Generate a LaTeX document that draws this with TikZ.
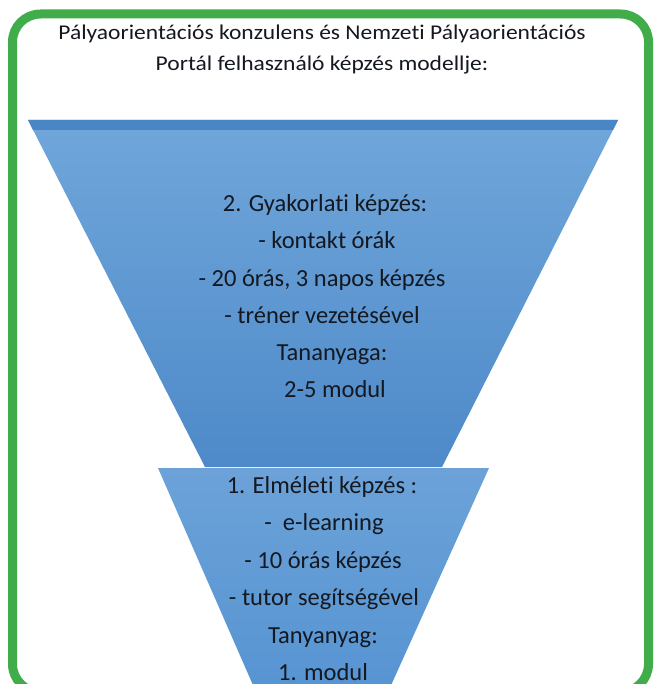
\documentclass[tikz,border=0pt]{standalone}
\usepackage{fontspec}
\setmainfont[Ligatures=NoCommon]{Carlito}
\definecolor{frameg}{RGB}{64,172,74}
\definecolor{upTop}{RGB}{112,166,218}
\definecolor{upBot}{RGB}{78,138,201}
\definecolor{band}{RGB}{74,134,198}
\definecolor{loTop}{RGB}{108,162,216}
\definecolor{loBot}{RGB}{86,148,210}
\definecolor{txt}{RGB}{20,24,32}
\newcommand{\widet}[1]{\scalebox{1.12}[1]{#1}}
\tikzset{
  title/.style={anchor=base, font=\fontsize{21}{24}\selectfont, text=txt, inner sep=0pt},
  body/.style={anchor=base, font=\fontsize{24.5}{28}\selectfont, text=txt, inner sep=0pt},
}
\begin{document}
\begin{tikzpicture}[x=1pt,y=-1pt]
\useasboundingbox (0,0) rectangle (653,684);
\clip (0,0) rectangle (653,684);
\fill[white] (0,0) rectangle (653,684);
% frame
\draw[line width=9pt, frameg, rounded corners=28pt] (12.5,14) rectangle (648.5,692);
% upper funnel part
\shade[top color=upTop, bottom color=upBot] (28,120) -- (618,120) -- (442,467) -- (205,467) -- cycle;
\fill[band] (28,120) -- (618,120) -- (613,130) -- (33,130) -- cycle;
% lower funnel part
\shade[top color=loTop, bottom color=loBot] (158,468) -- (489,468) -- (388,692) -- (256,692) -- cycle;
% title
\node[title] (t1) at (322,40) {\widet{Pályaorientációs konzulens és Nemzeti Pályaorientációs}};
\node[title] (t2) at (322,71) {\widet{Portál felhasználó képzés modellje:}};
% upper text
\node[body] (u1) at (325,212) {2. Gyakorlati képzés:};
\node[body] (u2) at (327,249) {- kontakt órák};
\node[body] (u3) at (322,286) {- 20 órás, 3 napos képzés};
\node[body] (u4) at (322,323) {- tréner vezetésével};
\node[body] (u5) at (332,360) {Tananyaga:};
\node[body] (u6) at (335,397) {2-5 modul};
% lower text
\node[body] (l1) at (322,493) {1. Elméleti képzés :};
\node[body] (l2) at (324,530) {-\ \ e-learning};
\node[body] (l3) at (323,568) {- 10 órás képzés};
\node[body] (l4) at (324,605) {- tutor segítségével};
\node[body] (l5) at (323,643) {Tanyanyag:};
\node[body] (l6) at (323,680) {1. modul};
\end{tikzpicture}
\end{document}
